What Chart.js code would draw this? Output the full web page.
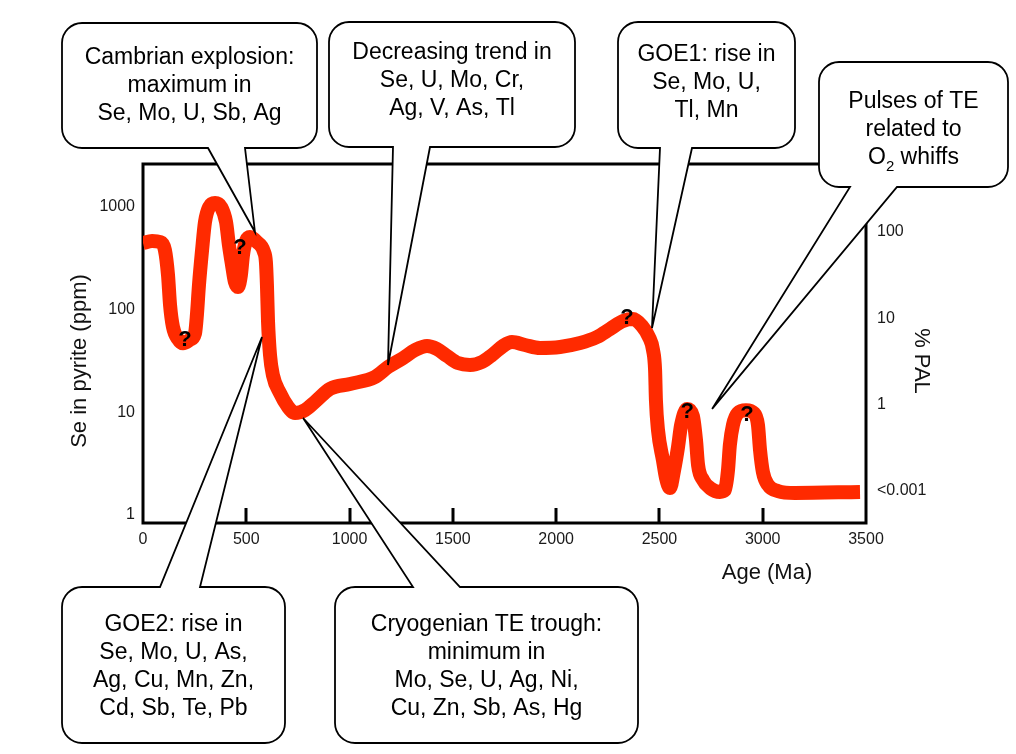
<!DOCTYPE html>
<html>
<head>
<meta charset="utf-8">
<script src="https://cdn.jsdelivr.net/npm/chart.js@4.4.1/dist/chart.umd.min.js"></script>
<style>
  html, body { margin: 0; padding: 0; background: #fff; }
  #wrap { position: relative; width: 1016px; height: 754px; }
</style>
</head>
<body>
<div id="wrap"><canvas id="chart"></canvas></div>
<script>
// Se in pyrite through time
const ages = [0, 44, 82, 106, 121, 131, 145, 169, 194, 228, 252, 261, 271, 286, 300, 320, 349, 378, 402, 416,
  431, 445, 460, 474, 484, 499, 518, 552, 586, 595, 600, 605, 615, 629, 663, 702, 736, 784, 837, 905,
  1002, 1123, 1186, 1259, 1317, 1375, 1423, 1472, 1525, 1583, 1641, 1690, 1743, 1786, 1849, 1922, 2019, 2116, 2198, 2261,
  2324, 2372, 2416, 2449, 2469, 2479, 2483, 2493, 2517, 2532, 2551, 2571, 2590, 2605, 2634, 2662, 2677, 2687, 2711, 2745,
  2793, 2817, 2832, 2841, 2856, 2880, 2919, 2957, 2977, 2987, 3001, 3026, 3074, 3156, 3471];
const sePpm = [446, 467, 456, 381, 218, 111, 68, 52, 47, 51, 59, 89, 174, 381, 713, 1000, 1094, 1000, 713, 426,
  272, 186, 166, 218, 341, 467, 510, 456, 365, 291, 174, 79, 36, 23, 15.4, 11.3, 9.85, 10.5, 12.9, 16.9,
  18.9, 22.1, 27.6, 33.8, 40.4, 44.3, 41.4, 35.4, 30.2, 28.9, 30.9, 36.2, 44.3, 48.4, 45.3, 42.4, 43.3, 47.3, 54.2, 64.9,
  77.6, 81.1, 69.3, 54.2, 40.4, 25.8, 13.2, 6.73, 3.43, 2.29, 1.83, 2.74, 4.59, 7.53, 10.8, 9.2, 5.37, 3.07, 2.19, 1.83,
  1.68, 1.75, 2.74, 4.81, 7.53, 9.85, 10.5, 9.85, 7.53, 4.30, 2.62, 1.96, 1.71, 1.64, 1.68];

// uncertain intervals marked with "?"
const qAges = [203, 470, 2343, 2634, 2924];
const qPpm = [50.6, 399, 82.9, 10.1, 9.42];

// axis ticks
const ageTickStep = 500;
const seTicks = [1, 10, 100, 1000];
const palTickPos = [0, 1, 2, 3];
const palLabels = ['<0.001', '1', '10', '100'];

const FONT = '"Liberation Sans", Arial, sans-serif';

// callouts: box in page pixels, tip anchored at (age, ppm)
const callouts = [
  { box: [62, 23, 255, 125], side: 'bottom', base: [208, 245], tip: [542, 571], y0: 58,
    lines: ['Cambrian explosion:', 'maximum in', 'Se, Mo, U, Sb, Ag'] },
  { box: [329, 22, 246, 125], side: 'bottom', base: [393, 430], tip: [1186, 28.9], y0: 53,
    lines: ['Decreasing trend in', 'Se, U, Mo, Cr,', 'Ag, V, As, Tl'] },
  { box: [618, 22, 177, 126], side: 'bottom', base: [660, 692], tip: [2464, 66.3], y0: 55,
    lines: ['GOE1: rise in', 'Se, Mo, U,', 'Tl, Mn'] },
  { box: [819, 62, 189, 125], side: 'bottom', base: [850, 897], tip: [2755, 10.8], y0: 102,
    lines: ['Pulses of TE', 'related to', 'O{2} whiffs'] },
  { box: [62, 587, 223, 156], side: 'top', base: [160, 200], tip: [576, 54.2], y0: 625,
    lines: ['GOE2: rise in', 'Se, Mo, U, As,', 'Ag, Cu, Mn, Zn,', 'Cd, Sb, Te, Pb'] },
  { box: [335, 587, 303, 156], side: 'top', base: [413, 460], tip: [775, 8.81], y0: 625,
    lines: ['Cryogenian TE trough:', 'minimum in', 'Mo, Se, U, Ag, Ni,', 'Cu, Zn, Sb, As, Hg'] }
];

function calloutPath(ctx, c, tx, ty) {
  const [x, y, w, h] = c.box;
  const r = 20;
  ctx.beginPath();
  ctx.moveTo(x + r, y);
  if (c.side === 'top') { ctx.lineTo(c.base[0], y); ctx.lineTo(tx, ty); ctx.lineTo(c.base[1], y); }
  ctx.lineTo(x + w - r, y);
  ctx.arcTo(x + w, y, x + w, y + r, r);
  ctx.lineTo(x + w, y + h - r);
  ctx.arcTo(x + w, y + h, x + w - r, y + h, r);
  if (c.side === 'bottom') { ctx.lineTo(c.base[1], y + h); ctx.lineTo(tx, ty); ctx.lineTo(c.base[0], y + h); }
  ctx.lineTo(x + r, y + h);
  ctx.arcTo(x, y + h, x, y + h - r, r);
  ctx.lineTo(x, y + r);
  ctx.arcTo(x, y, x + r, y, r);
  ctx.closePath();
}

// text with {n} as subscript
function drawRich(ctx, text, cx, cy) {
  const parts = text.split(/\{(\d)\}/);
  const big = '23px ' + FONT, small = '15px ' + FONT;
  let total = 0;
  parts.forEach((p, i) => { ctx.font = i % 2 ? small : big; total += ctx.measureText(p).width; });
  let x = cx - total / 2;
  ctx.textAlign = 'left';
  parts.forEach((p, i) => {
    ctx.font = i % 2 ? small : big;
    ctx.fillText(p, x, i % 2 ? cy + 9 : cy);
    x += ctx.measureText(p).width;
  });
}

const decor = {
  id: 'decor',
  beforeDatasetsDraw(chart) {
    const { ctx, chartArea: a, scales } = chart;
    ctx.save();
    ctx.strokeStyle = '#000';
    ctx.lineWidth = 3;
    ctx.strokeRect(a.left, a.top, a.right - a.left, a.bottom - a.top);
    // inner tick marks on the age axis
    ctx.beginPath();
    scales.x.ticks.forEach(t => {
      if (t.value <= scales.x.min || t.value >= scales.x.max) return;
      const px = Math.round(scales.x.getPixelForValue(t.value));
      ctx.moveTo(px, a.bottom);
      ctx.lineTo(px, a.bottom - 15);
    });
    ctx.stroke();
    ctx.restore();
  },
  afterDraw(chart) {
    const { ctx, scales } = chart;
    ctx.save();
    // question marks
    ctx.fillStyle = '#000';
    ctx.font = 'bold 22px ' + FONT;
    ctx.textAlign = 'center';
    ctx.textBaseline = 'middle';
    qAges.forEach((age, i) => {
      ctx.fillText('?', scales.x.getPixelForValue(age), scales.y.getPixelForValue(qPpm[i]));
    });
    // callouts
    callouts.forEach(c => {
      const tx = scales.x.getPixelForValue(c.tip[0]);
      const ty = scales.y.getPixelForValue(c.tip[1]);
      calloutPath(ctx, c, tx, ty);
      ctx.fillStyle = '#fff';
      ctx.fill();
      ctx.lineWidth = 1.8;
      ctx.strokeStyle = '#000';
      ctx.lineJoin = 'miter';
      ctx.stroke();
      ctx.fillStyle = '#000';
      ctx.textBaseline = 'middle';
      const cx = c.box[0] + c.box[2] / 2;
      c.lines.forEach((ln, i) => drawRich(ctx, ln, cx, c.y0 + i * 28));
    });
    // axis titles
    ctx.fillStyle = '#111';
    ctx.font = '22px ' + FONT;
    ctx.textAlign = 'center';
    ctx.textBaseline = 'middle';
    ctx.fillText('Age (Ma)', 767, 573);
    ctx.save();
    ctx.translate(80, 361);
    ctx.rotate(-Math.PI / 2);
    ctx.fillText('Se in pyrite (ppm)', 0, 0);
    ctx.restore();
    ctx.save();
    ctx.translate(921, 361);
    ctx.rotate(Math.PI / 2);
    ctx.fillText('% PAL', 0, 0);
    ctx.restore();
    ctx.restore();
  }
};

const tickFont = { family: FONT, size: 16 };

new Chart(document.getElementById('chart'), {
  type: 'line',
  data: {
    datasets: [{
      data: ages.map((a, i) => ({ x: a, y: sePpm[i] })),
      borderColor: '#ff2a00',
      borderWidth: 14,
      borderJoinStyle: 'round',
      borderCapStyle: 'butt',
      cubicInterpolationMode: 'monotone',
      pointRadius: 0,
      fill: false
    }]
  },
  options: {
    responsive: true,
    maintainAspectRatio: false,
    animation: false,
    devicePixelRatio: 1,
    layout: { padding: { top: 164, left: 0, right: 0, bottom: 0 } },
    plugins: { legend: { display: false }, tooltip: { enabled: false } },
    scales: {
      x: {
        type: 'linear', position: 'bottom', min: 0, max: 3500,
        ticks: { stepSize: ageTickStep, callback: v => String(v), padding: 7, font: tickFont, color: '#1a1a1a', maxRotation: 0, autoSkip: false },
        grid: { display: false, drawTicks: false },
        border: { display: false },
        afterFit: s => { s.height = 231; }
      },
      y: {
        type: 'logarithmic', position: 'left', min: 0.836, max: 2624,
        afterBuildTicks: s => { s.ticks = seTicks.map(v => ({ value: v })); },
        ticks: { callback: v => String(v), padding: 8, font: tickFont, color: '#1a1a1a' },
        grid: { display: false, drawTicks: false },
        border: { display: false },
        afterFit: s => { s.width = 143; }
      },
      y1: {
        type: 'linear', position: 'right', min: -0.371, max: 3.788,
        afterBuildTicks: s => { s.ticks = palTickPos.map(v => ({ value: v })); },
        ticks: { callback: v => palLabels[palTickPos.indexOf(v)], padding: 11, font: tickFont, color: '#1a1a1a' },
        grid: { display: false, drawTicks: false },
        border: { display: false },
        afterFit: s => { s.width = 150; }
      }
    }
  },
  plugins: [decor]
});
</script>
</body>
</html>
